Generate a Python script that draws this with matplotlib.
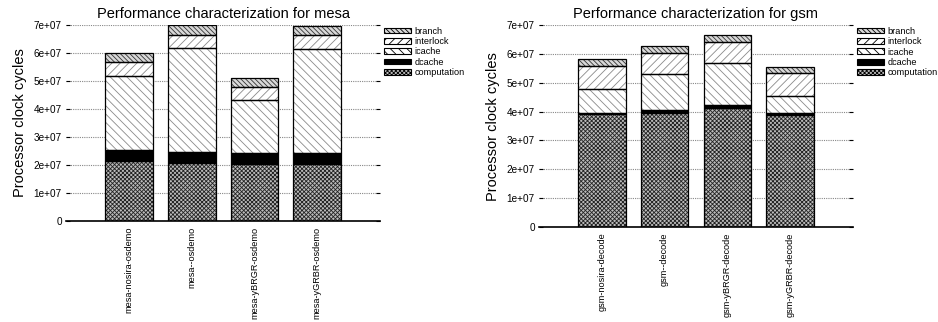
import numpy as np
import matplotlib
matplotlib.use("Agg")
import matplotlib.pyplot as plt
from matplotlib.patches import Patch

plt.rcParams["font.family"] = ["Liberation Sans", "DejaVu Sans"]
plt.rcParams["hatch.linewidth"] = 0.6

components = ["computation", "dcache", "icache", "interlock", "branch"]

mesa_runs = ["mesa-nosira-osdemo", "mesa--osdemo", "mesa-yBRGR-osdemo", "mesa-yGRBR-osdemo"]
mesa_computation = [2.13e7, 2.06e7, 2.04e7, 2.04e7]
mesa_dcache = [0.40e7, 0.41e7, 0.40e7, 0.40e7]
mesa_icache = [2.65e7, 3.72e7, 1.87e7, 3.72e7]
mesa_interlock = [0.51e7, 0.47e7, 0.49e7, 0.50e7]
mesa_branch = [0.31e7, 0.34e7, 0.29e7, 0.30e7]

gsm_runs = ["gsm-nosira-decode", "gsm--decode", "gsm-yBRGR-decode", "gsm-yGRBR-decode"]
gsm_computation = [3.91e7, 3.97e7, 4.14e7, 3.89e7]
gsm_dcache = [0.06e7, 0.08e7, 0.08e7, 0.07e7]
gsm_icache = [0.83e7, 1.24e7, 1.46e7, 0.59e7]
gsm_interlock = [0.78e7, 0.75e7, 0.75e7, 0.79e7]
gsm_branch = [0.23e7, 0.22e7, 0.24e7, 0.20e7]

y_ticks = [0, 1e7, 2e7, 3e7, 4e7, 5e7, 6e7, 7e7]
y_tick_labels = ["0", "1e+07", "2e+07", "3e+07", "4e+07", "5e+07", "6e+07", "7e+07"]

# fill / hatch / hatch colour per stacked component
styles = {
    "computation": dict(fc="#bbbbbb", hatch="xxxxxxxx", hc="#222222"),
    "dcache": dict(fc="black", hatch=None, hc="black"),
    "icache": dict(fc="white", hatch="\\\\\\\\", hc="#8a8a8a"),
    "interlock": dict(fc="white", hatch="////", hc="#8a8a8a"),
    "branch": dict(fc="#d8d8d8", hatch="\\\\\\\\\\\\\\", hc="#333333"),
}


def draw_panel(ax, runs, stacks, title):
    x = np.arange(len(runs))
    bottom = np.zeros(len(runs))
    for name, vals in zip(components, stacks):
        st = styles[name]
        vals = np.asarray(vals)
        # hatch layer, then a crisp black outline on top
        ax.bar(x, vals, 0.76, bottom=bottom, color=st["fc"], hatch=st["hatch"],
               edgecolor=st["hc"], linewidth=0, zorder=2)
        ax.bar(x, vals, 0.76, bottom=bottom, fill=False, edgecolor="black",
               linewidth=0.9, zorder=3)
        bottom += vals

    ax.set_xlim(-1, 4)
    ax.set_ylim(0, 7e7)
    ax.set_yticks(y_ticks)
    ax.set_yticklabels(y_tick_labels, fontsize=7.2)
    ax.set_xticks(x)
    ax.set_xticklabels(runs, rotation=90, fontsize=6.6, va="top")
    ax.tick_params(axis="x", length=0, pad=4)
    ax.tick_params(axis="y", length=3, width=0.8, direction="in",
                   left=True, right=True, pad=3)
    for side in ("top", "left", "right"):
        ax.spines[side].set_visible(False)
    ax.spines["bottom"].set_linewidth(1.2)
    ax.yaxis.grid(True, linestyle=(0, (1, 1)), color="#888888", linewidth=0.8, zorder=0)
    ax.set_axisbelow(True)
    ax.set_title(title, fontsize=10.5, pad=5)
    ax.set_ylabel("Processor clock cycles", fontsize=10.5, labelpad=5)

    handles = []
    for name in reversed(components):
        st = styles[name]
        handles.append(Patch(facecolor=st["fc"], hatch=st["hatch"], edgecolor="black",
                             linewidth=0.8, label=name))
    ax.legend(handles=handles, loc="upper left", bbox_to_anchor=(1.0, 1.01),
              frameon=False, fontsize=6.6, handlelength=3.0, handleheight=0.6,
              labelspacing=0.15, handletextpad=0.35, borderaxespad=0.1,
              borderpad=0.3)


fig = plt.figure(figsize=(9.38, 3.22), dpi=100)
ax1 = fig.add_axes([0.0704, 0.3137, 0.3348, 0.6087])
ax2 = fig.add_axes([0.5746, 0.2950, 0.3348, 0.6270])

draw_panel(ax1, mesa_runs,
           [mesa_computation, mesa_dcache, mesa_icache, mesa_interlock, mesa_branch],
           "Performance characterization for mesa")
draw_panel(ax2, gsm_runs,
           [gsm_computation, gsm_dcache, gsm_icache, gsm_interlock, gsm_branch],
           "Performance characterization for gsm")

fig.savefig("out.png", dpi=100)
